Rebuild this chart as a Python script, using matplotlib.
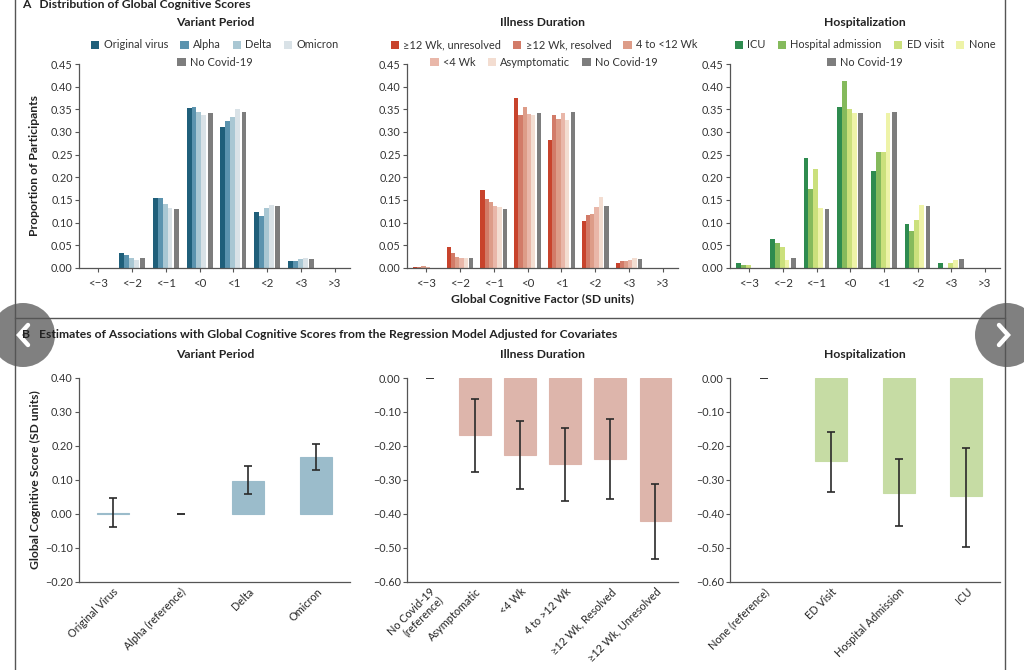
import numpy as np
import matplotlib.pyplot as plt
from matplotlib.patches import Patch, Circle

plt.rcParams['font.family'] = ['Lato', 'DejaVu Sans']

W, H = 1024, 670

# ---- panel A data: proportion of participants per score bin ----
bins = ['<\u22123', '<\u22122', '<\u22121', '<0', '<1', '<2', '<3', '>3']

variant_names = ['Original virus', 'Alpha', 'Delta', 'Omicron', 'No Covid-19']
variant_colors = ['#1f5f7a', '#5b93ae', '#a9c7d3', '#d9e2e7', '#7d7d7d']
variant_orig = [0.001, 0.034, 0.154, 0.354, 0.311, 0.123, 0.015, 0.001]
variant_alpha = [0.001, 0.029, 0.154, 0.356, 0.325, 0.114, 0.015, 0.001]
variant_delta = [0.001, 0.023, 0.142, 0.344, 0.332, 0.133, 0.019, 0.001]
variant_omicron = [0.001, 0.018, 0.133, 0.337, 0.350, 0.138, 0.021, 0.001]
no_covid = [0.001, 0.021, 0.130, 0.342, 0.344, 0.137, 0.020, 0.001]

illness_names = ['\u226512 Wk, unresolved', '\u226512 Wk, resolved', '4 to <12 Wk',
                 '<4 Wk', 'Asymptomatic', 'No Covid-19']
illness_colors = ['#c8432c', '#d27b68', '#dd9c88', '#e9b7a9', '#f3ddd1', '#7d7d7d']
illness_unres = [0.002, 0.046, 0.172, 0.374, 0.282, 0.103, 0.010, 0.001]
illness_res = [0.002, 0.033, 0.152, 0.338, 0.337, 0.116, 0.015, 0.001]
illness_4to12 = [0.004, 0.024, 0.146, 0.356, 0.328, 0.119, 0.015, 0.001]
illness_lt4 = [0.003, 0.021, 0.136, 0.339, 0.343, 0.135, 0.018, 0.001]
illness_asym = [0.001, 0.021, 0.135, 0.337, 0.326, 0.157, 0.021, 0.001]

hosp_names = ['ICU', 'Hospital admission', 'ED visit', 'None', 'No Covid-19']
hosp_colors = ['#2e8b4f', '#85ba5c', '#cbe07c', '#eef3a8', '#7d7d7d']
hosp_icu = [0.011, 0.064, 0.242, 0.356, 0.214, 0.096, 0.011, 0.001]
hosp_admit = [0.007, 0.055, 0.174, 0.413, 0.256, 0.082, 0.001, 0.001]
hosp_ed = [0.007, 0.046, 0.219, 0.350, 0.256, 0.105, 0.011, 0.001]
hosp_none = [0.001, 0.017, 0.133, 0.342, 0.343, 0.140, 0.017, 0.001]

# ---- panel B data: regression estimates with 95% CI ----
var_labels = ['Original Virus', 'Alpha (reference)', 'Delta', 'Omicron']
var_est = [0.003, 0.0, 0.097, 0.167]
var_lo = [-0.037, 0.0, 0.060, 0.130]
var_hi = [0.047, 0.0, 0.140, 0.205]
var_ref = 1

dur_labels = ['No Covid-19\n(reference)', 'Asymptomatic', '<4 Wk', '4 to >12 Wk',
              '\u226512 Wk, Resolved', '\u226512 Wk, Unresolved']
dur_est = [0.0, -0.168, -0.225, -0.253, -0.237, -0.420]
dur_lo = [0.0, -0.275, -0.325, -0.362, -0.355, -0.532]
dur_hi = [0.0, -0.062, -0.125, -0.147, -0.122, -0.313]
dur_ref = 0

hos_labels = ['None (reference)', 'ED Visit', 'Hospital Admission', 'ICU']
hos_est = [0.0, -0.245, -0.337, -0.348]
hos_lo = [0.0, -0.335, -0.435, -0.497]
hos_hi = [0.0, -0.160, -0.237, -0.205]
hos_ref = 0

fig = plt.figure(figsize=(W / 100, H / 100), dpi=100)


def px_axes(x0, y0, x1, y1):
    return fig.add_axes([x0 / W, 1 - y1 / H, (x1 - x0) / W, (y1 - y0) / H])


def style(ax):
    for s in ['top', 'right']:
        ax.spines[s].set_visible(False)
    for s in ['left', 'bottom']:
        ax.spines[s].set_color('#555555')
        ax.spines[s].set_linewidth(0.9)
    ax.tick_params(length=3, width=0.8, color='#555555', labelsize=7.8,
                   labelcolor='#333333', pad=1.5)


def dist_panel(ax, series, colors, w, gap=0.045):
    n = len(series)
    offs = [i * w for i in range(n - 1)] + [(n - 1) * w + gap]
    total = offs[-1] + w
    x = np.arange(len(bins))
    for vals, c, o in zip(series, colors, offs):
        ax.bar(x - total / 2 + o + w / 2, vals, w, color=c, linewidth=0)
    ax.set_xlim(-0.57, 7.45)
    ax.set_ylim(0, 0.45)
    ax.set_yticks(np.arange(0, 0.451, 0.05))
    ax.set_yticklabels(['%.2f' % v for v in np.arange(0, 0.451, 0.05)])
    ax.set_xticks(x)
    ax.set_xticklabels(bins)
    style(ax)
    ax.tick_params(axis='x', pad=4, labelsize=8.3)


def est_panel(ax, labels, est, lo, hi, ref, color, width, ylim):
    x = np.arange(len(labels))
    for i in x:
        if i == ref:
            ax.plot([i], [0], marker='_', color='#222222', markersize=6, mew=1.3)
            continue
        ax.bar(i, est[i], width, color=color, edgecolor=color, linewidth=0.8)
        ax.errorbar(i, est[i], yerr=[[est[i] - lo[i]], [hi[i] - est[i]]],
                    fmt='none', ecolor='#2a2a2a', elinewidth=1.2, capsize=3, capthick=1.2)
    ax.set_xlim(-0.5, len(labels) - 0.5)
    ax.set_ylim(*ylim)
    ticks = np.arange(ylim[0], ylim[1] + 0.001, 0.1)
    ax.set_yticks(ticks)
    ax.set_yticklabels([('%.2f' % t).replace('-', '\u2212') if abs(t) > 1e-9 else '0.00'
                        for t in ticks])
    ax.set_xticks(x)
    ax.set_xticklabels(labels, rotation=45, ha='right', rotation_mode='anchor',
                       fontsize=9.5, color='#1e1e1e', fontweight='medium',
                       linespacing=1.0)
    style(ax)
    ax.tick_params(axis='x', length=0, pad=3)


# panel A
ax1 = px_axes(79, 64, 350, 268)
dist_panel(ax1, [variant_orig, variant_alpha, variant_delta, variant_omicron, no_covid],
           variant_colors, 0.145)
ax2 = px_axes(407, 64, 678, 268)
dist_panel(ax2, [illness_unres, illness_res, illness_4to12, illness_lt4, illness_asym, no_covid],
           illness_colors, 0.125)
ax3 = px_axes(730, 64, 1000, 268)
dist_panel(ax3, [hosp_icu, hosp_admit, hosp_ed, hosp_none, no_covid], hosp_colors, 0.145)

# panel B
bx1 = px_axes(79, 378, 350, 582)
est_panel(bx1, var_labels, var_est, var_lo, var_hi, var_ref, '#9bbccb', 0.47, (-0.2, 0.4))
bx2 = px_axes(407, 378, 678, 582)
est_panel(bx2, dur_labels, dur_est, dur_lo, dur_hi, dur_ref, '#ddb5ab', 0.7, (-0.6, 0.0))
bx3 = px_axes(730, 378, 1000, 582)
est_panel(bx3, hos_labels, hos_est, hos_lo, hos_hi, hos_ref, '#c6dca4', 0.48, (-0.6, 0.0))

# legends, two centred rows per panel
def legend_row(names, colors, cx, cy):
    handles = [Patch(facecolor=c, edgecolor='none') for c in colors]
    fig.legend(handles, names, loc='center', bbox_to_anchor=(cx / W, 1 - cy / H),
               ncol=len(names), frameon=False, fontsize=7.9, handlelength=0.75,
               handleheight=0.75, handletextpad=0.4, columnspacing=1.1, borderpad=0,
               labelcolor='#333333')

legend_row(variant_names[:4], variant_colors[:4], 215, 45)
legend_row(variant_names[4:], variant_colors[4:], 215, 62)
legend_row(illness_names[:3], illness_colors[:3], 544, 45)
legend_row(illness_names[3:], illness_colors[3:], 544, 62)
legend_row(hosp_names[:4], hosp_colors[:4], 865, 45)
legend_row(hosp_names[4:], hosp_colors[4:], 865, 62)

# overlay in pixel coordinates: frame, headings, labels, nav buttons
ov = fig.add_axes([0, 0, 1, 1], zorder=10)
ov.set_xlim(0, W)
ov.set_ylim(H, 0)
ov.axis('off')

ov.plot([15, 15], [0, H], color='#555555', lw=1.0)
ov.plot([1005, 1005], [0, H], color='#555555', lw=1.0)
ov.plot([15, 1005], [318, 318], color='#555555', lw=1.0)

ov.text(22, 4, 'A   Distribution of Global Cognitive Scores', fontsize=8.7,
        fontweight='bold', color='#222222', va='center')
ov.text(22, 334, 'B   Estimates of Associations with Global Cognitive Scores from the '
        'Regression Model Adjusted for Covariates', fontsize=8.7, fontweight='bold',
        color='#222222', va='center')

for cx, t in [(215, 'Variant Period'), (543, 'Illness Duration'), (865, 'Hospitalization')]:
    ov.text(cx, 22, t, fontsize=8.7, fontweight='bold', color='#222222', ha='center', va='center')
    ov.text(cx, 354, t, fontsize=8.7, fontweight='bold', color='#222222', ha='center', va='center')

ov.text(35, 166, 'Proportion of Participants', rotation=90, fontsize=8.7,
        fontweight='bold', color='#222222', ha='center', va='center')
ov.text(543, 299, 'Global Cognitive Factor (SD units)', fontsize=8.7,
        fontweight='bold', color='#222222', ha='center', va='center')
ov.text(35, 480, 'Global Cognitive Score (SD units)', rotation=90, fontsize=8.7,
        fontweight='bold', color='#222222', ha='center', va='center')

# navigation buttons of the page viewer
for cx, d in [(23, -1), (1007, 1)]:
    ov.add_patch(Circle((cx, 335), 32, facecolor='#6f6f6f', edgecolor='none', alpha=0.88))
    tip = cx + d * 1 - (0 if d > 0 else 3)
    ov.plot([tip - d * 9, tip, tip - d * 9], [325, 335, 345], color='white', lw=3.2,
            solid_capstyle='round', solid_joinstyle='miter')

fig.savefig('out.png', dpi=100)
